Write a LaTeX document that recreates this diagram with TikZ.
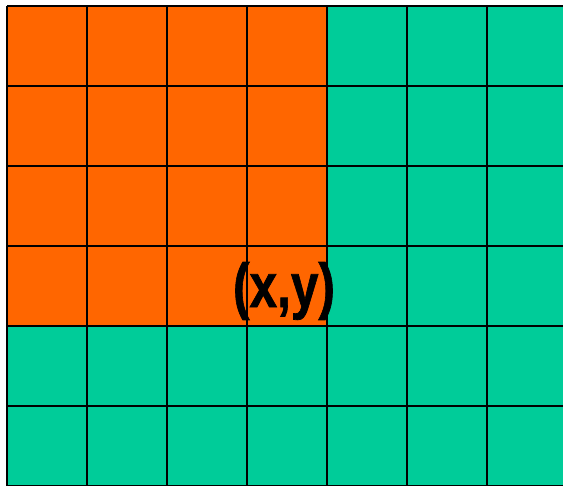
\documentclass[tikz,border=0pt]{standalone}
\usepackage{fontspec}
\setmainfont{Liberation Sans}
\newfontfamily\labelfont[FakeBold=1.2]{Liberation Sans Bold}
\usetikzlibrary{positioning}
\definecolor{cellorange}{RGB}{255,102,0}
\definecolor{cellteal}{RGB}{0,204,153}
\tikzset{gridline/.style={draw=black,line width=2pt},label/.style={font=\labelfont\fontsize{62}{62}\selectfont,inner sep=0pt}}

\begin{document}
\begin{tikzpicture}[x=1pt,y=-1pt]
\useasboundingbox (0,0) rectangle (563,486);
\clip (0,0) rectangle (563,486);
\fill[cellteal] (7,6) rectangle (567,490);
\fill[cellorange] (7,6) rectangle (327,326);
\foreach \i in {0,...,7} \draw[gridline] (7+80*\i,6) -- (7+80*\i,490);
\foreach \j in {0,...,6} \draw[gridline] (7,6+80*\j) -- (567,6+80*\j);
\node[label] (xy) at (284,291) {\scalebox{0.8}[1]{(x,y)}};
\end{tikzpicture}
\end{document}
